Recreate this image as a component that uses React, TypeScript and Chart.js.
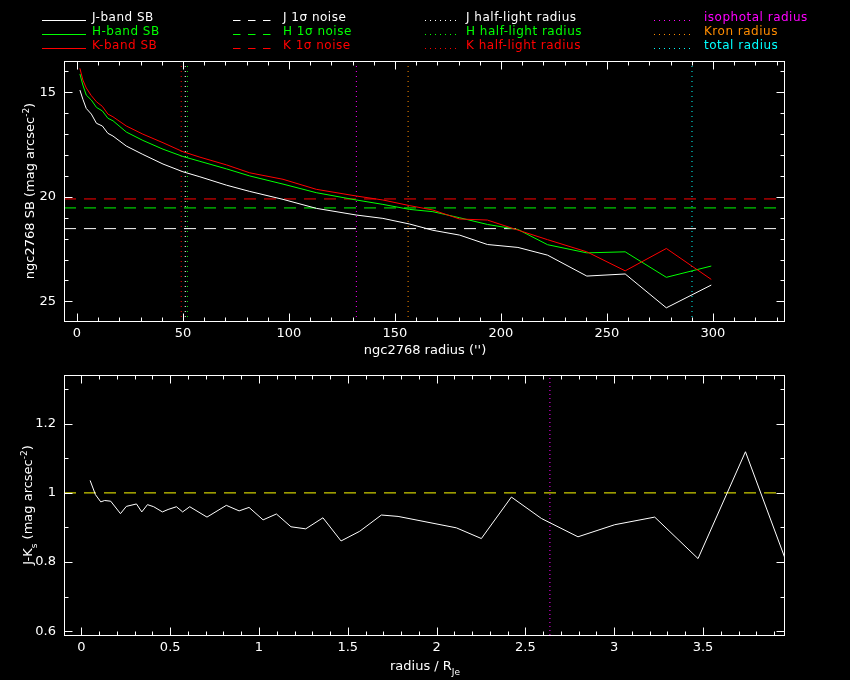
import { useEffect, useRef } from "react";
import { Chart, registerables } from "chart.js";

Chart.register(...registerables);

// ---------- top panel data (surface brightness profiles) ----------
const radius = [1.4, 2.8, 4.4, 6.8, 9.2, 12.0, 14.6, 17.0, 23.3, 31.1, 40.6, 50, 58, 70.5, 81.5, 97.2, 112.9, 131.8, 144.3, 156.9, 167.9, 180.5, 193.6, 208, 222, 240.5, 258.6, 278, 299.2];
const jSB = [14.89, 15.33, 15.77, 16.04, 16.48, 16.61, 16.96, 17.09, 17.57, 17.97, 18.43, 18.8, 19.04, 19.44, 19.74, 20.12, 20.55, 20.87, 21.03, 21.3, 21.6, 21.83, 22.28, 22.42, 22.79, 23.79, 23.69, 25.31, 24.22];
const hSB = [14.12, 14.65, 15.13, 15.37, 15.72, 15.89, 16.24, 16.36, 16.9, 17.3, 17.72, 18.07, 18.3, 18.66, 19.0, 19.39, 19.8, 20.15, 20.36, 20.6, 20.71, 21.0, 21.32, 21.56, 22.29, 22.68, 22.63, 23.85, 23.31];
const kSB = [13.85, 14.41, 14.79, 15.16, 15.45, 15.67, 16.04, 16.17, 16.61, 17.0, 17.41, 17.84, 18.1, 18.47, 18.85, 19.16, 19.64, 19.96, 20.15, 20.42, 20.63, 21.06, 21.11, 21.59, 22.05, 22.63, 23.54, 22.47, 23.95];

const bandNames = ["J", "H", "K"];
const bandColors = ["#ffffff", "#00ff00", "#ff0000"];
const noiseLevels = [21.52, 20.53, 20.1];
const halfLightRadii = [51.1, 52.1, 49.2];
const apertureNames = ["isophotal radius", "Kron radius", "total radius"];
const apertureColors = ["#ff00ff", "#ff8c00", "#00ffff"];
const apertureRadii = [131.8, 156.2, 290.1];

const topXRange = [-6.1, 333.5];
const topYRange = [13.5, 25.94];
const topXTicks = [0, 50, 100, 150, 200, 250, 300];
const topYTicks = [15, 20, 25];

// ---------- bottom panel data (J-K colour profile) ----------
const ratioRadius = [0.049, 0.079, 0.109, 0.131, 0.165, 0.22, 0.253, 0.31, 0.34, 0.372, 0.407, 0.456, 0.488, 0.535, 0.57, 0.61, 0.707, 0.816, 0.888, 0.944, 1.023, 1.098, 1.18, 1.263, 1.36, 1.462, 1.567, 1.689, 1.783, 2.111, 2.252, 2.421, 2.59, 2.796, 3.003, 3.228, 3.472, 3.739, 4.02];
const jkColour = [1.036, 0.995, 0.974, 0.978, 0.976, 0.94, 0.961, 0.968, 0.945, 0.966, 0.96, 0.945, 0.952, 0.96, 0.945, 0.96, 0.93, 0.964, 0.948, 0.958, 0.922, 0.939, 0.902, 0.896, 0.928, 0.861, 0.889, 0.936, 0.932, 0.899, 0.868, 0.988, 0.926, 0.873, 0.908, 0.93, 0.81, 1.119, 0.73];
const colourReference = [1.0];
const isophotalRatio = [2.638];

const botXRange = [-0.098, 3.956];
const botYRange = [0.589, 1.341];
const botXTicks = [0, 0.5, 1, 1.5, 2, 2.5, 3, 3.5];
const botYTicks = [0.6, 0.8, 1, 1.2];

const FONT = '"DejaVu Sans", "Liberation Sans", sans-serif';

function stepValues(from: number, to: number, step: number): number[] {
  const out: number[] = [];
  for (let i = 0; from + i * step <= to + 1e-9; i++) out.push(+(from + i * step).toFixed(4));
  return out;
}

type Part = { t: string; sup?: boolean; sub?: boolean };

function drawRich(ctx: CanvasRenderingContext2D, parts: Part[], cx: number, baseY: number, rotate: boolean) {
  ctx.save();
  ctx.fillStyle = "#ffffff";
  ctx.textBaseline = "alphabetic";
  ctx.textAlign = "left";
  const fontFor = (p: Part) => (p.sup || p.sub ? `9px ${FONT}` : `13px ${FONT}`);
  let total = 0;
  for (const p of parts) {
    ctx.font = fontFor(p);
    total += ctx.measureText(p.t).width;
  }
  if (rotate) {
    ctx.translate(baseY, cx);
    ctx.rotate(-Math.PI / 2);
  } else {
    ctx.translate(cx, baseY);
  }
  let x = -total / 2;
  for (const p of parts) {
    ctx.font = fontFor(p);
    const dy = p.sup ? -5 : p.sub ? 5 : 0;
    ctx.fillText(p.t, x, dy);
    x += ctx.measureText(p.t).width;
  }
  ctx.restore();
}

type FrameCfg = {
  id: string;
  xMajor: number[];
  xMinor: number[];
  yMajor: number[];
  yMinor: number[];
  xTitle: Part[];
  yTitle: Part[];
  xTitleY: number;
  yTitleX: number;
  legend?: boolean;
};

function makeFramePlugin(cfg: FrameCfg) {
  return {
    id: cfg.id,
    afterDraw(chart: any) {
      const { ctx, chartArea: a, scales } = chart;
      const xs = scales.x;
      const ys = scales.y;
      const L = Math.round(a.left) + 0.5;
      const R = Math.round(a.right) + 0.5;
      const T = Math.round(a.top) + 0.5;
      const B = Math.round(a.bottom) + 0.5;
      ctx.save();
      ctx.strokeStyle = "#ffffff";
      ctx.lineWidth = 1;
      ctx.setLineDash([]);
      ctx.strokeRect(L, T, R - L, B - T);
      ctx.beginPath();
      const xTicks = (vals: number[], len: number) => {
        for (const v of vals) {
          const p = Math.round(xs.getPixelForValue(v)) + 0.5;
          if (p < L || p > R) continue;
          ctx.moveTo(p, B);
          ctx.lineTo(p, B - len);
          ctx.moveTo(p, T);
          ctx.lineTo(p, T + len);
        }
      };
      const yTicks = (vals: number[], len: number) => {
        for (const v of vals) {
          const p = Math.round(ys.getPixelForValue(v)) + 0.5;
          if (p < T || p > B) continue;
          ctx.moveTo(L, p);
          ctx.lineTo(L + len, p);
          ctx.moveTo(R, p);
          ctx.lineTo(R - len, p);
        }
      };
      xTicks(cfg.xMinor, 4);
      xTicks(cfg.xMajor, 8);
      yTicks(cfg.yMinor, 4);
      yTicks(cfg.yMajor, 8);
      ctx.stroke();
      ctx.restore();

      const cxPlot = (a.left + a.right) / 2;
      const cyPlot = (a.top + a.bottom) / 2;
      drawRich(ctx, cfg.xTitle, cxPlot + 1, cfg.xTitleY, false);
      drawRich(ctx, cfg.yTitle, cyPlot, cfg.yTitleX, true);

      if (cfg.legend) {
        const rowsLine = [20.5, 34.5, 48.5];
        const rowsText = [21, 35, 49];
        ctx.save();
        ctx.lineWidth = 1;
        ctx.font = `12px ${FONT}`;
        ctx.textBaseline = "alphabetic";
        ctx.textAlign = "left";
        try {
          (ctx as any).letterSpacing = "0.5px";
        } catch (e) {}
        const item = (x0: number, x1: number, tx: number, row: number, color: string, dash: number[], label: string) => {
          ctx.strokeStyle = color;
          ctx.fillStyle = color;
          ctx.setLineDash(dash);
          ctx.beginPath();
          ctx.moveTo(x0, rowsLine[row]);
          ctx.lineTo(x1, rowsLine[row]);
          ctx.stroke();
          ctx.fillText(label, tx, rowsText[row]);
        };
        bandNames.forEach((b, i) => {
          item(42, 86, 92, i, bandColors[i], [], `${b}-band SB`);
          item(233, 278, 283, i, bandColors[i], [7.5, 7.5], `${b} 1\u03c3 noise`);
          item(425, 458, 466, i, bandColors[i], [1, 4], `${b} half-light radius`);
          item(654, 694, 704, i, apertureColors[i], [1, 4], apertureNames[i]);
        });
        ctx.restore();
      }
    },
  };
}

function scaleOpts(range: number[], ticks: number[], isY: boolean, fitSize: number, reverse = false) {
  return {
    type: "linear" as const,
    min: range[0],
    max: range[1],
    reverse,
    position: isY ? ("left" as const) : ("bottom" as const),
    grid: { display: false, drawTicks: false },
    border: { display: false },
    afterBuildTicks: (s: any) => {
      s.ticks = ticks.map((v) => ({ value: v }));
    },
    afterFit: (s: any) => {
      if (isY) s.width = fitSize;
      else s.height = fitSize;
      s.paddingTop = 0;
      s.paddingBottom = 0;
      s.paddingLeft = 0;
      s.paddingRight = 0;
    },
    ticks: {
      color: "#ffffff",
      font: { family: FONT, size: 13 },
      padding: isY ? 8 : 5,
      autoSkip: false,
      maxRotation: 0,
      minRotation: 0,
      callback: (v: any) => String(v),
    },
  };
}

function line(data: { x: number; y: number }[], color: string, dash: number[] = []) {
  return {
    data,
    borderColor: color,
    backgroundColor: color,
    borderWidth: 1,
    borderDash: dash,
    pointRadius: 0,
    showLine: true,
    tension: 0,
    fill: false,
  };
}

export default function App() {
  const topRef = useRef<HTMLCanvasElement>(null);
  const botRef = useRef<HTMLCanvasElement>(null);

  useEffect(() => {
    document.body.style.margin = "0";
    document.body.style.background = "#000000";
    Chart.defaults.font.family = FONT;

    const curves = [jSB, hSB, kSB].map((arr) => radius.map((r, i) => ({ x: r, y: arr[i] })));
    const topDatasets: any[] = [
      line(curves[2], bandColors[2]),
      line(curves[1], bandColors[1]),
      line(curves[0], bandColors[0]),
      ...noiseLevels.map((lv, i) =>
        line([{ x: topXRange[0], y: lv }, { x: topXRange[1], y: lv }], bandColors[i], [12, 8])
      ),
      ...halfLightRadii.map((r, i) =>
        line([{ x: r, y: topYRange[0] }, { x: r, y: topYRange[1] }], bandColors[i], [1, 4])
      ),
      ...apertureRadii.map((r, i) =>
        line([{ x: r, y: topYRange[0] }, { x: r, y: topYRange[1] }], apertureColors[i], [1, 4])
      ),
    ];

    const top = new Chart(topRef.current!, {
      type: "scatter",
      data: { datasets: topDatasets },
      options: {
        responsive: false,
        maintainAspectRatio: false,
        animation: false,
        devicePixelRatio: 1,
        events: [],
        layout: { padding: { left: 0, right: 66, top: 61, bottom: 0 } },
        plugins: { legend: { display: false }, tooltip: { enabled: false } },
        scales: {
          x: scaleOpts(topXRange, topXTicks, false, 44),
          y: scaleOpts(topYRange, topYTicks, true, 64, true),
        },
      } as any,
      plugins: [
        makeFramePlugin({
          id: "frameTop",
          xMajor: topXTicks,
          xMinor: stepValues(0, 330, 10),
          yMajor: topYTicks,
          yMinor: stepValues(14, 25, 1),
          xTitle: [{ t: "ngc2768 radius ('')" }],
          yTitle: [{ t: "ngc2768 SB (mag arcsec" }, { t: "-2", sup: true }, { t: ")" }],
          xTitleY: 354,
          yTitleX: 33.5,
          legend: true,
        }),
      ],
    });

    const botDatasets: any[] = [
      line(ratioRadius.map((r, i) => ({ x: r, y: jkColour[i] })), "#ffffff"),
      line([{ x: botXRange[0], y: colourReference[0] }, { x: botXRange[1], y: colourReference[0] }], "#ffff00", [12, 8]),
      line([{ x: isophotalRatio[0], y: botYRange[0] }, { x: isophotalRatio[0], y: botYRange[1] }], "#ff00ff", [1, 3]),
    ];

    const bot = new Chart(botRef.current!, {
      type: "scatter",
      data: { datasets: botDatasets },
      options: {
        responsive: false,
        maintainAspectRatio: false,
        animation: false,
        devicePixelRatio: 1,
        events: [],
        layout: { padding: { left: 0, right: 66, top: 10, bottom: 0 } },
        plugins: { legend: { display: false }, tooltip: { enabled: false } },
        scales: {
          x: scaleOpts(botXRange, botXTicks, false, 45),
          y: scaleOpts(botYRange, botYTicks, true, 64),
        },
      } as any,
      plugins: [
        makeFramePlugin({
          id: "frameBot",
          xMajor: botXTicks,
          xMinor: stepValues(0, 3.9, 0.1),
          yMajor: botYTicks,
          yMinor: stepValues(0.6, 1.3, 0.1),
          xTitle: [{ t: "radius / R" }, { t: "Je", sub: true }],
          yTitle: [{ t: "J-K" }, { t: "s", sub: true }, { t: " (mag arcsec" }, { t: "-2", sup: true }, { t: ")" }],
          xTitleY: 305,
          yTitleX: 32,
        }),
      ],
    });

    return () => {
      top.destroy();
      bot.destroy();
    };
  }, []);

  return (
    <div style={{ position: "relative", width: 850, height: 680, background: "#000000", overflow: "hidden" }}>
      <canvas ref={topRef} width={850} height={365} style={{ position: "absolute", left: 0, top: 0, width: 850, height: 365, display: "block" }} />
      <canvas ref={botRef} width={850} height={315} style={{ position: "absolute", left: 0, top: 365, width: 850, height: 315, display: "block" }} />
    </div>
  );
}
